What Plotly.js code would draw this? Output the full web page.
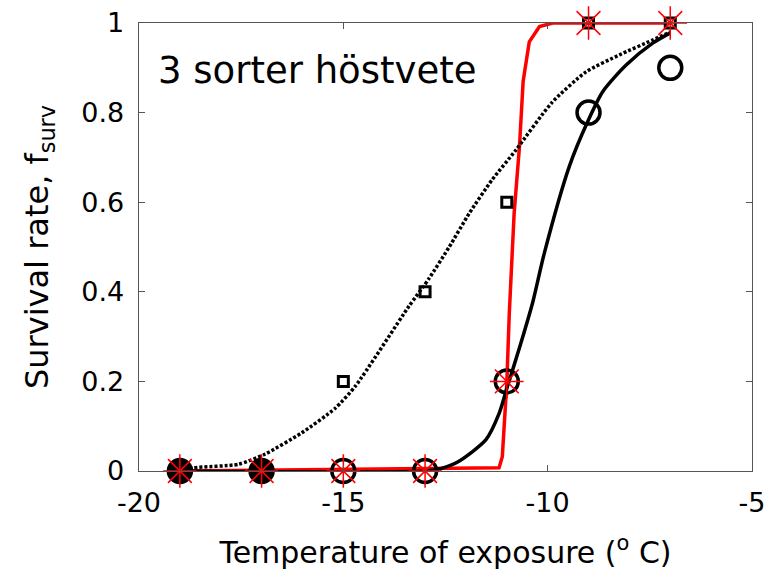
<!DOCTYPE html>
<html>
<head>
<meta charset="utf-8">
<script src="https://cdn.plot.ly/plotly-3.0.1.min.js"></script>
<style>html,body{margin:0;padding:0;background:#fff;}</style>
</head>
<body>
<div id="chart" style="width:770px;height:571px;"></div>
<script>
// Observed data points
var tempX = [-19, -17, -15, -13, -11, -9, -7];
var circleY = [0, 0, 0, 0, 0.2, 0.8, 0.9];
var squareY = [0, 0, 0.2, 0.4, 0.6, 1, 1];
var starY = [0, 0, 0, 0, 0.2, 1, 1];

// Fitted curves
var dottedX = [-19, -18.67, -17.57, -16.91, -16.02, -15.2, -14.7, -13.4, -12.9, -12.41, -11.92, -11.36, -10.78, -9.9, -9.06, -8.24, -7.43, -7];
var dottedY = [0, 0.007, 0.015, 0.038, 0.085, 0.14, 0.19, 0.367, 0.43, 0.5, 0.575, 0.65, 0.716, 0.822, 0.891, 0.929, 0.962, 0.98];

var blackX = [-19, -13, -12.6, -12.17, -11.51, -11.19, -10.99, -10.69, -10.37, -10.08, -9.47, -9.02, -8.65, -8.08, -7.43, -7];
var blackY = [0, 0, 0.006, 0.022, 0.07, 0.128, 0.187, 0.275, 0.375, 0.487, 0.68, 0.78, 0.847, 0.906, 0.955, 0.978];

var redX = [-19, -11.19, -11.11, -11.04, -11.0, -10.94, -10.87, -10.82, -10.69, -10.6, -10.45, -10.2, -9.88, -7];
var redY = [0, 0.007, 0.032, 0.121, 0.196, 0.35, 0.493, 0.576, 0.724, 0.87, 0.958, 0.992, 1, 1];

var xTicks = [-20, -15, -10, -5];
var yTicks = [0, 0.2, 0.4, 0.6, 0.8, 1];

var FONT = 'DejaVu Sans, Arial, sans-serif';

// circles overlapped by a same-valued square look filled
var circleFill = circleY.map(function (v, i) { return v === squareY[i] ? '#000' : 'rgba(0,0,0,0)'; });

var traces = [
  {x: redX, y: redY, mode: 'lines', line: {color: '#ff0000', width: 3.5, shape: 'linear'}, hoverinfo: 'skip'},
  {x: dottedX, y: dottedY, mode: 'lines', line: {color: '#000', width: 3.5, dash: '3px,2px', shape: 'spline', smoothing: 0.6}, hoverinfo: 'skip'},
  {x: blackX, y: blackY, mode: 'lines', line: {color: '#000', width: 3.5, shape: 'spline', smoothing: 0.7}, hoverinfo: 'skip'},
  {x: tempX, y: circleY, mode: 'markers', marker: {symbol: 'circle', size: 23, color: circleFill, line: {color: '#000', width: 3.5}}, cliponaxis: false},
  {x: tempX, y: squareY, mode: 'markers', marker: {symbol: 'square-open', size: 10, color: '#000', line: {color: '#000', width: 3}}, cliponaxis: false},
  {x: tempX, y: starY, mode: 'markers', marker: {symbol: 'asterisk-open', size: 28, color: '#ff0000', line: {color: '#ff0000', width: 1.5}}, cliponaxis: false}
];

var axisCommon = {
  showgrid: false, zeroline: false, showline: true, linecolor: '#555', linewidth: 1.3,
  mirror: 'ticks', ticks: 'inside', ticklen: 6, tickwidth: 1.3, tickcolor: '#555',
  tickfont: {family: FONT, size: 27, color: '#000'}
};

var layout = {
  width: 770, height: 571,
  margin: {l: 139, r: 18, t: 23, b: 100},
  paper_bgcolor: '#fff', plot_bgcolor: '#fff',
  showlegend: false,
  font: {family: FONT, color: '#000'},
  xaxis: Object.assign({}, axisCommon, {
    range: [-20, -5], tickvals: xTicks, ticktext: xTicks.map(String), ticklabelstandoff: 7,
    title: {text: 'Temperature of exposure (<sup>o</sup> C)', font: {family: FONT, size: 30, color: '#000'}, standoff: 25}
  }),
  yaxis: Object.assign({}, axisCommon, {
    range: [0, 1], tickvals: yTicks, ticktext: yTicks.map(String), ticklabelstandoff: 8,
    title: {text: 'Survival rate, f<sub>surv</sub>', font: {family: FONT, size: 32, color: '#000'}, standoff: 23}
  }),
  annotations: [{
    xref: 'paper', yref: 'paper', x: 0.027, y: 0.893, xanchor: 'left', yanchor: 'middle',
    text: '3 sorter höstvete', showarrow: false, font: {family: FONT, size: 37, color: '#000'}
  }]
};

Plotly.newPlot('chart', traces, layout, {displayModeBar: false, staticPlot: true});
</script>
</body>
</html>
